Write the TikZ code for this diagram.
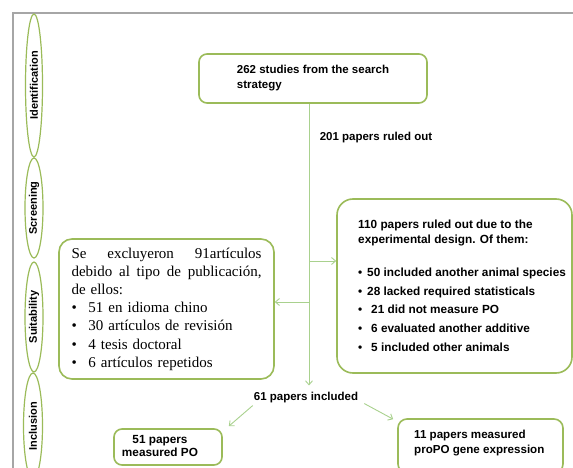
\documentclass[tikz,border=0pt]{standalone}
\usepackage{fontspec}
\setmainfont{Liberation Sans}
\newfontfamily\serifx{Liberation Serif}
\usetikzlibrary{shapes.geometric,arrows.meta,calc}
\definecolor{gborder}{HTML}{9BBB59}
\definecolor{gline}{HTML}{A9D18E}
\definecolor{framegray}{HTML}{A6A6A6}
\begin{document}
\begin{tikzpicture}[x=1pt,y=-1pt,
 box/.style={draw=gborder, line width=1.6pt, rounded corners=9pt, fill=white},
 phase/.style={draw=gborder, line width=1.2pt, ellipse, rotate=90, inner sep=0pt, font=\fontsize{11}{13}\selectfont\bfseries},
 conn/.style={draw=gline, line width=0.9pt},
 arr/.style={conn, -{Straight Barb[length=4pt,width=7pt]}},
 lab/.style={font=\fontsize{11.5}{15}\selectfont\bfseries, inner sep=0pt}
]
\useasboundingbox (0,0) rectangle (573,468);
\clip (0,0) rectangle (573,468);
\fill[white] (0,0) rectangle (573,468);
\draw[framegray, line width=2pt] (590,13) -- (13,13) -- (13,490);

% phase ellipses
\node[phase, minimum width=143, minimum height=17] (ident) at (34,85.5) {Identification};
\node[phase, minimum width=100, minimum height=18] (screen) at (34,208) {Screening};
\node[phase, minimum width=110, minimum height=18] (suit) at (34,317) {Suitability};
\node[phase, minimum width=106, minimum height=19] (incl) at (33,426) {Inclusion};

% boxes
\node[box, lab, align=left, minimum width=228, minimum height=49, rounded corners=8pt] (top) at (313,78.5) {262 studies from the search\\strategy};
\node[lab] (ruled) at (376,138) {201 papers ruled out};

\node[box, minimum width=235, minimum height=174, rounded corners=16pt] (rbox) at (454.5,286) {};
\node[anchor=north west, inner sep=0pt, align=left, font=\fontsize{11.8}{15}\selectfont\bfseries] (rtext) at (358,219.5)
 {110 papers ruled out due to the\\experimental design. Of them:\\[18pt]
  \makebox[9pt][l]{•}50 included another animal species\\[3.75pt]
  \makebox[9pt][l]{•}28 lacked required statisticals\\[3.75pt]
  \makebox[13pt][l]{•}21 did not measure PO\\[3.75pt]
  \makebox[13pt][l]{•}6 evaluated another additive\\[3.75pt]
  \makebox[13pt][l]{•}5 included other animals};

\node[box, text width=190pt, align=left, inner xsep=12.5pt, inner ysep=0pt, minimum height=140, rounded corners=13pt, font=\serifx\fontsize{15}{18.2}\selectfont] (lbox) at (166.5,309)
 {Se\hfill excluyeron\hfill 91artículos\\
  debido\hfill al\hfill tipo\hfill de\hfill publicación,\\
  de ellos:\\
  \makebox[17pt][l]{•}51 en idioma chino\\
  \makebox[17pt][l]{•}30 artículos de revisión\\
  \makebox[17pt][l]{•}4 tesis doctoral\\
  \makebox[17pt][l]{•}6 artículos repetidos};

\node[lab] (inc) at (306,398) {61 papers included};

\node[box, minimum width=108, minimum height=36, rounded corners=8pt] (b1) at (168,447) {};
\node[align=center, inner sep=0pt, font=\fontsize{11.8}{12.5}\selectfont\bfseries] (b1t) at (160,446) {51 papers\\measured PO};

\node[box, minimum width=165, minimum height=54, rounded corners=9pt] (b2) at (480.5,446) {};
\node[anchor=west, align=left, inner sep=0pt, font=\fontsize{11.6}{14.7}\selectfont\bfseries] (b2t) at (414,443) {11 papers measured\\proPO gene expression};

% connectors
\coordinate (j1) at (309,261);
\coordinate (j2) at (309,302);
\draw[arr] (top.south -| j1) -- ($(j1 |- inc.north)+(0,-7)$);
\draw[arr] (j1) -- (rbox.west |- j1);
\draw[arr] (j2) -- (lbox.east |- j2);
\draw[arr] ($(inc.south west)+(-1,2)$) -- ($(b1.north east)+(6,-2)$);
\draw[arr] ($(inc.south east)+(6,0)$) -- ($(b2.north west)+(-4,1)$);
\end{tikzpicture}
\end{document}
